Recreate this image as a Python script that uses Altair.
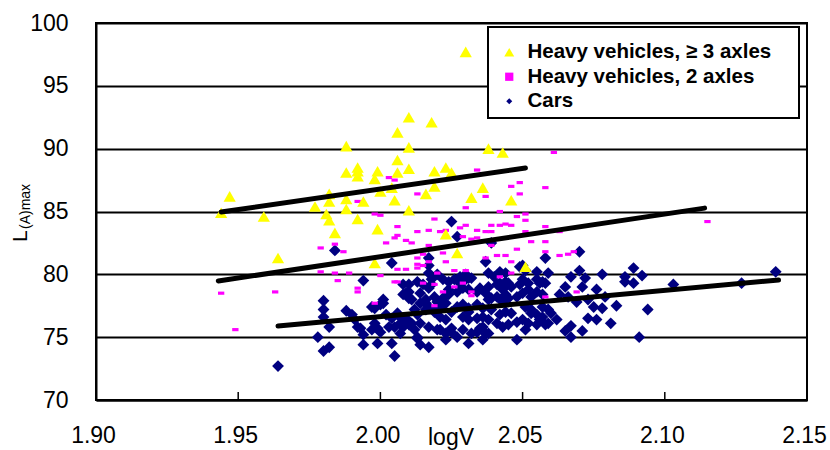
import altair as alt
import pandas as pd

FONT = "Liberation Sans"

categories = ["Heavy vehicles, \u2265 3 axles", "Heavy vehicles, 2 axles", "Cars"]
colors = ["#FFFF00", "#FF00FF", "#000080"]

x_ticks = [1.90, 1.95, 2.00, 2.05, 2.10, 2.15]
inner_x_ticks = [1.95, 2.00, 2.05, 2.10]
y_ticks = [70, 75, 80, 85, 90, 95, 100]

heavy3 = [
    (1.944, 84.9), (1.947, 86.2), (1.959, 84.6), (1.964, 81.3), (1.977, 85.4),
    (1.981, 84.8), (1.982, 84.3), (1.982, 86.4), (1.982, 85.8), (1.984, 83.3),
    (1.988, 90.2), (1.988, 88.1), (1.988, 86.0), (1.988, 85.2), (1.992, 88.5),
    (1.992, 88.2), (1.992, 87.8), (1.992, 84.4), (1.994, 85.8), (1.998, 87.6),
    (1.998, 80.9), (1.999, 88.2), (1.999, 83.6), (2.000, 86.6), (2.004, 86.9),
    (2.006, 91.3), (2.006, 89.1), (2.006, 88.1), (2.005, 85.9), (2.010, 92.5),
    (2.010, 90.1), (2.010, 88.4), (2.010, 85.1), (2.018, 92.1), (2.019, 88.2),
    (2.023, 88.5), (2.025, 88.1), (2.038, 90.0), (2.043, 89.7), (2.019, 87.0),
    (2.016, 86.4), (2.036, 86.9), (2.032, 86.1), (2.046, 85.9), (2.023, 83.2),
    (2.027, 81.7), (2.051, 80.6), (2.030, 97.7),
]

heavy2 = [
    (1.944, 78.5), (1.949, 75.6), (1.963, 78.6), (1.979, 82.1), (1.979, 80.2),
    (1.984, 82.4), (1.987, 81.8), (1.984, 80.1), (1.989, 80.1), (1.985, 79.5),
    (1.992, 78.9), (1.992, 78.6), (1.998, 77.7), (1.992, 85.8), (1.998, 84.8),
    (2.000, 84.7), (2.003, 87.7), (2.005, 87.5), (2.013, 86.4), (2.006, 83.8),
    (2.005, 82.9), (2.006, 83.1), (2.009, 82.7), (2.011, 82.5), (2.002, 82.5),
    (2.000, 81.4), (2.000, 79.9), (2.005, 79.4), (2.006, 79.4), (2.006, 80.4),
    (2.009, 80.4), (2.013, 81.3), (2.013, 80.8), (2.013, 80.5), (2.013, 83.4),
    (2.017, 83.5), (2.019, 84.4), (2.017, 82.3), (2.015, 81.6), (2.017, 81.0),
    (2.015, 79.3), (2.019, 79.2), (2.022, 78.6), (2.019, 77.5), (2.023, 81.0),
    (2.021, 83.4), (2.023, 83.5), (2.028, 83.7), (2.030, 83.9), (2.029, 83.0),
    (2.032, 82.8), (2.030, 85.3), (2.034, 88.3), (2.037, 86.2), (2.042, 85.0),
    (2.048, 84.6), (2.051, 84.8), (2.051, 84.3), (2.046, 87.0), (2.049, 87.3),
    (2.049, 86.4), (2.058, 86.9), (2.061, 89.7), (2.034, 83.5), (2.039, 83.9),
    (2.042, 83.9), (2.044, 84.0), (2.046, 83.9), (2.037, 83.4), (2.039, 83.4),
    (2.058, 83.8), (2.034, 82.9), (2.039, 82.3), (2.053, 82.6), (2.058, 82.6),
    (2.048, 82.0), (2.022, 81.7), (2.041, 81.5), (2.044, 81.5), (2.037, 81.3),
    (2.046, 81.0), (2.030, 80.3), (2.029, 79.3), (2.026, 79.0), (2.032, 78.6),
    (2.032, 78.3), (2.046, 80.1), (2.042, 79.8), (2.058, 81.8), (2.063, 81.5),
    (2.066, 81.6), (2.068, 81.8), (2.063, 83.4), (2.069, 78.6), (2.058, 78.2),
    (2.115, 84.2), (2.051, 83.4), (2.026, 80.3), (2.015, 80.7), (2.020, 80.1),
]

cars = [
    (1.964, 72.7), (1.978, 75.0), (1.980, 77.9), (1.980, 77.2), (1.980, 76.6),
    (1.980, 73.9), (1.982, 74.2), (1.982, 75.8), (1.984, 81.9), (1.988, 77.1),
    (1.990, 76.8), (1.991, 76.4), (1.992, 75.8), (1.993, 75.7), (1.994, 79.5),
    (1.994, 75.2), (1.994, 74.4), (1.998, 77.3), (2.000, 77.6), (2.001, 77.7),
    (1.999, 74.5), (2.004, 80.9), (2.004, 74.5), (2.005, 73.5), (2.008, 78.4),
    (2.010, 78.1), (2.008, 79.2), (2.010, 79.2), (2.013, 79.4), (2.013, 74.9),
    (1.998, 76.1), (1.999, 75.7), (2.000, 75.4), (2.002, 76.8), (2.004, 76.5),
    (2.006, 76.8), (2.007, 76.6), (2.009, 76.5), (2.003, 75.8), (2.005, 75.8),
    (2.007, 76.1), (2.008, 75.8), (2.009, 78.5), (2.011, 78.0), (2.012, 77.2),
    (2.013, 76.8), (2.010, 76.0), (2.012, 75.6), (2.013, 75.0), (2.014, 74.4),
    (2.017, 74.2), (2.017, 81.3), (2.017, 80.7), (2.017, 80.1), (2.015, 79.2),
    (2.017, 78.9), (2.018, 79.2), (2.020, 80.0), (2.022, 79.6), (2.018, 79.6),
    (2.019, 78.2), (2.020, 77.8), (2.022, 78.1), (2.024, 78.4), (2.016, 77.7),
    (2.017, 77.4), (2.019, 77.0), (2.021, 76.6), (2.023, 76.4), (2.021, 75.6),
    (2.023, 74.8), (2.025, 75.4), (2.027, 75.0), (2.024, 79.4), (2.026, 79.6),
    (2.028, 79.3), (2.030, 79.6), (2.031, 79.7), (2.024, 78.8), (2.027, 78.6),
    (2.029, 78.9), (2.031, 78.8), (2.034, 78.6), (2.027, 77.4), (2.029, 77.6),
    (2.031, 77.3), (2.034, 77.6), (2.036, 77.3), (2.029, 76.6), (2.031, 76.4),
    (2.034, 76.5), (2.036, 76.6), (2.029, 75.6), (2.032, 75.3), (2.035, 75.7),
    (2.037, 75.3), (2.031, 74.5), (2.036, 74.8), (2.038, 80.1), (2.040, 79.8),
    (2.042, 80.2), (2.044, 80.1), (2.038, 79.0), (2.041, 79.2), (2.043, 78.9),
    (2.045, 79.3), (2.046, 79.0), (2.038, 78.0), (2.041, 78.2), (2.043, 77.8),
    (2.045, 78.1), (2.048, 78.2), (2.039, 77.2), (2.042, 76.8), (2.044, 77.0),
    (2.046, 76.9), (2.041, 76.1), (2.043, 75.8), (2.045, 76.0), (2.048, 76.2),
    (2.048, 74.8), (2.050, 79.6), (2.052, 79.3), (2.055, 79.6), (2.057, 79.4),
    (2.059, 80.1), (2.050, 78.5), (2.053, 78.2), (2.055, 78.6), (2.057, 78.4),
    (2.051, 77.4), (2.053, 77.2), (2.057, 77.4), (2.059, 77.2), (2.050, 76.4),
    (2.052, 76.1), (2.056, 76.4), (2.058, 76.0), (2.051, 75.6), (2.058, 81.3),
    (2.027, 83.0), (2.037, 81.0), (2.039, 82.5), (2.050, 80.7), (2.025, 84.2),
    (2.028, 79.8), (2.030, 80.0), (2.032, 79.7), (2.049, 80.6), (2.051, 80.3),
    (2.055, 80.2), (2.042, 79.3), (2.044, 79.4), (2.049, 79.2), (2.056, 79.3),
    (2.001, 78.0), (1.997, 77.4), (1.997, 75.6), (2.010, 78.6), (2.014, 78.5),
    (2.014, 77.7), (2.016, 78.0), (2.016, 77.2), (2.023, 77.7), (2.021, 77.3),
    (2.025, 77.0), (2.031, 77.0), (2.035, 78.9), (2.037, 78.5), (2.039, 78.1),
    (2.043, 78.8), (2.044, 78.4), (2.053, 76.9), (2.057, 76.6), (2.038, 76.4),
    (2.011, 76.1), (2.014, 76.1), (2.017, 75.8), (2.020, 75.6), (2.023, 75.3),
    (2.025, 75.7), (2.034, 75.4), (2.036, 75.8), (2.038, 75.3), (2.006, 76.9),
    (2.007, 75.3),
    (2.070, 81.8), (2.058, 79.3), (2.052, 78.8), (2.070, 80.3), (2.067, 79.8),
    (2.072, 79.7), (2.078, 80.0), (2.065, 79.0), (2.071, 79.0), (2.076, 78.8),
    (2.079, 78.2), (2.086, 79.8), (2.089, 80.5), (2.086, 79.4), (2.089, 79.3),
    (2.092, 79.9), (2.103, 79.2), (2.127, 79.3), (2.139, 80.2), (2.063, 78.4),
    (2.066, 78.2), (2.069, 77.8), (2.073, 78.0), (2.075, 77.4), (2.083, 77.5),
    (2.094, 77.2), (2.078, 77.3), (2.055, 76.8), (2.060, 76.9), (2.062, 76.4),
    (2.059, 76.1), (2.073, 76.5), (2.076, 76.4), (2.081, 76.1), (2.065, 75.5),
    (2.067, 75.9), (2.071, 75.5), (2.067, 75.0), (2.091, 75.0), (2.055, 76.0),
]

# trend line end points
fit_heavy3 = [(1.944, 84.96), (2.051, 88.46)]
fit_heavy2 = [(1.943, 79.47), (2.114, 85.27)]
fit_cars = [(1.964, 75.89), (2.140, 79.55)]


def frame(pairs):
    return pd.DataFrame(pairs, columns=["x", "y"])


xscale = alt.Scale(domain=[1.90, 2.15], nice=False, zero=False)
yscale = alt.Scale(domain=[70, 100], nice=False, zero=False)

x_axis = alt.Axis(
    values=x_ticks, format=".2f", title=None, grid=False, ticks=False,
    domain=True, domainColor="black", domainWidth=2,
    labelFont=FONT, labelFontSize=23, labelColor="black", labelPadding=24,
    labelOverlap=False, labelFlush=False, labelOffset=-3,
)
y_axis = alt.Axis(
    values=y_ticks, title=None, grid=True, gridColor="black", gridWidth=2,
    gridOpacity=1, ticks=False, domain=True, domainColor="black", domainWidth=2,
    labelFont=FONT, labelFontSize=23, labelColor="black", labelPadding=28,
    labelOverlap=False, labelFlush=False,
)

X = alt.X("x:Q", scale=xscale, axis=x_axis)
Y = alt.Y("y:Q", scale=yscale, axis=y_axis)

one = alt.Data(values=[{}])

legend_box = alt.Chart(one).mark_rect(
    fill="white", stroke="black", strokeWidth=2
).encode(x=alt.value(392), x2=alt.value(703), y=alt.value(4), y2=alt.value(95))

cars_layer = alt.Chart(frame(cars)).mark_point(
    filled=True, shape="diamond", size=140, color=colors[2], opacity=1, strokeWidth=0
).encode(x=X, y=Y)

heavy2_layer = alt.Chart(frame(heavy2)).mark_point(
    filled=True, shape="M-1,-0.5L1,-0.5L1,0.5L-1,0.5Z", size=40,
    color=colors[1], opacity=1, strokeWidth=0
).encode(x=X, y=Y)

heavy3_layer = alt.Chart(frame(heavy3)).mark_point(
    filled=True, shape="triangle-up", size=150, color=colors[0], opacity=1, strokeWidth=0
).encode(x=X, y=Y)


def fit_layer(pairs):
    return alt.Chart(frame(pairs)).mark_line(
        color="black", strokeWidth=5, strokeCap="round"
    ).encode(x=X, y=Y)


ticks_layer = alt.Chart(pd.DataFrame({"x": inner_x_ticks})).mark_rule(
    color="black", strokeWidth=1.5
).encode(x=X, y=alt.value(369), y2=alt.value(377))

y_title_main = alt.Chart(one).mark_text(
    text="L", angle=270, align="left", baseline="alphabetic",
    font=FONT, fontSize=21, color="black"
).encode(x=alt.value(-69), y=alt.value(219))

y_title_sub = alt.Chart(one).mark_text(
    text="(A)max", angle=270, align="left", baseline="alphabetic",
    font=FONT, fontSize=14, color="black"
).encode(x=alt.value(-66), y=alt.value(206))

x_title = alt.Chart(one).mark_text(
    text="logV", align="center", baseline="alphabetic",
    font=FONT, fontSize=23, color="black"
).encode(x=alt.value(355), y=alt.value(422))

leg = alt.Legend(
    orient="none", legendX=403, legendY=19, title=None, padding=0,
    labelFont=FONT, labelFontSize=20.5, labelFontWeight="bold", labelColor="black",
    labelLimit=400, labelOffset=8, rowPadding=3.5, symbolStrokeWidth=0,
    symbolOpacity=1,
)
legend_df = pd.DataFrame({"cat": categories, "x": [2.0] * 3, "y": [80.0] * 3})
legend_layer = alt.Chart(legend_df).transform_filter("false").mark_point(
    filled=True, opacity=1
).encode(
    x=X, y=Y,
    color=alt.Color("cat:N", scale=alt.Scale(domain=categories, range=colors), legend=leg),
    shape=alt.Shape("cat:N", scale=alt.Scale(domain=categories,
                                             range=["triangle-up", "square", "diamond"]), legend=leg),
    size=alt.Size("cat:N", scale=alt.Scale(domain=categories, range=[100, 36, 64]), legend=leg),
)

chart = alt.layer(
    legend_box, cars_layer, heavy2_layer, heavy3_layer,
    fit_layer(fit_heavy3), fit_layer(fit_heavy2), fit_layer(fit_cars),
    ticks_layer, y_title_main, y_title_sub, x_title, legend_layer,
).properties(
    width=711, height=377,
    autosize=alt.AutoSizeParams(type="none"),
    padding={"left": 96, "top": 23, "right": 23, "bottom": 50},
    background="white",
).configure_view(stroke="black", strokeWidth=2)

chart.save("out.html", embed_options={"renderer": "svg", "actions": False})
